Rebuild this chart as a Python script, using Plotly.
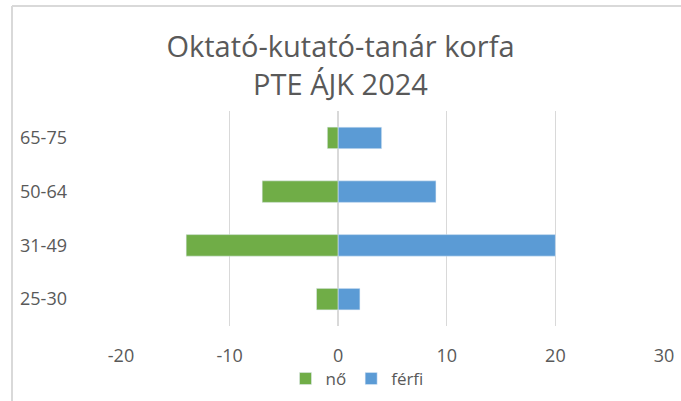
import plotly.graph_objects as go

categories = ["25-30", "31-49", "50-64", "65-75"]
no_values = [-2, -14, -7, -1]
ferfi_values = [2, 20, 9, 4]
x_ticks = [-20, -10, 0, 10, 20, 30]
x_tick_labels = ["-20", "-10", "0", "10", "20", "30"]

GREEN = "#70AD47"
BLUE = "#5B9BD5"
GRAY = "#595959"
GRID = "#D9D9D9"
FONT = "Open Sans"

fig = go.Figure()
fig.add_trace(go.Bar(y=categories, x=no_values, orientation="h", name="nő",
                     marker=dict(color=GREEN)))
fig.add_trace(go.Bar(y=categories, x=ferfi_values, orientation="h", name="férfi",
                     marker=dict(color=BLUE)))

L, R, T, B = 121, 17, 111, 75
W, H = 681, 401
pw, ph = W - L - R, H - T - B

fx = (12 - L) / pw
fy = 1 + (T - 6) / ph

fig.update_layout(
    width=W, height=H,
    margin=dict(l=L, r=R, t=T, b=B, autoexpand=False),
    paper_bgcolor="white", plot_bgcolor="white",
    barmode="relative", bargap=0.6,
    font=dict(family=FONT, color=GRAY, size=18),
    title=dict(text="Oktató-kutató-tanár korfa<br>PTE ÁJK 2024",
               x=0.5, xanchor="center", y=1 - 57 / H, yanchor="middle",
               xref="container", yref="container",
               font=dict(family=FONT, size=29, color=GRAY)),
    xaxis=dict(range=[-20, 30], tickvals=x_ticks, ticktext=x_tick_labels,
               showgrid=True, gridcolor=GRID, automargin=False,
               gridwidth=1, zeroline=True, zerolinecolor=GRID, zerolinewidth=2,
               showline=False, ticks="", ticklabelstandoff=17,
               tickfont=dict(size=18, color=GRAY)),
    yaxis=dict(categoryorder="array", categoryarray=categories, showgrid=False,
               showline=False, ticks="", ticklabelstandoff=53, automargin=False,
               tickfont=dict(size=18, color=GRAY)),
    legend=dict(orientation="h", x=(357 - L) / pw, xanchor="center",
                y=(326 - 379) / ph, yanchor="middle", font=dict(size=17, color=GRAY),
                itemwidth=30, tracegroupgap=0, bgcolor="rgba(0,0,0,0)"),
    showlegend=True,
    shapes=[
        dict(type="line", xref="paper", yref="paper", x0=fx, x1=fx, y0=-0.5, y1=fy,
             line=dict(color=GRID, width=2)),
        dict(type="line", xref="paper", yref="paper", x0=fx, x1=1.1, y0=fy, y1=fy,
             line=dict(color=GRID, width=2)),
    ],
)

fig.write_html("out.html", config={"displayModeBar": False},
               post_script="document.body.style.margin='0';")
